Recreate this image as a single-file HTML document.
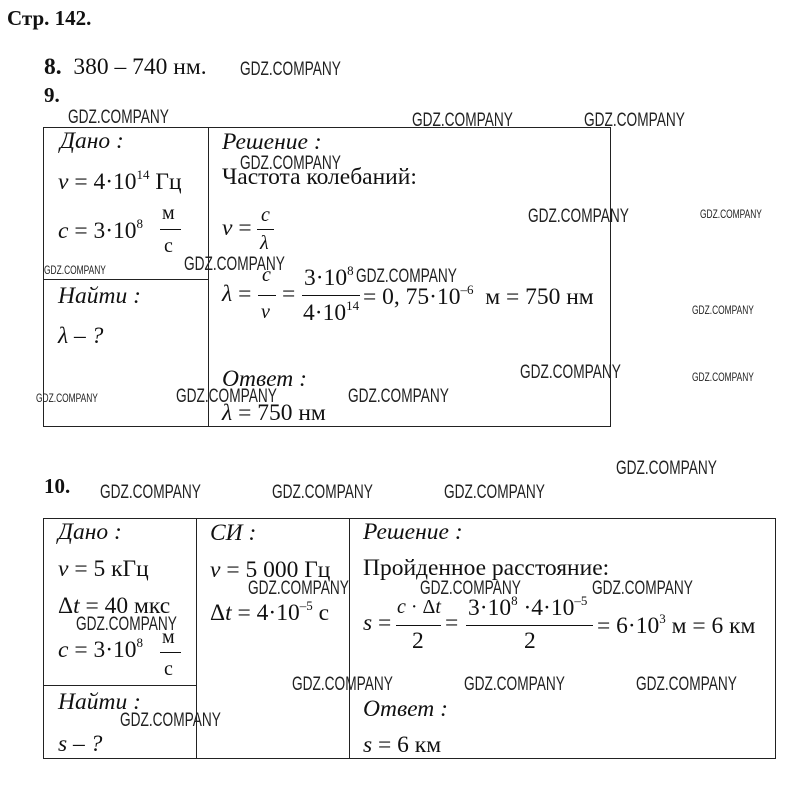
<!DOCTYPE html>
<html><head><meta charset="utf-8"><style>
body{margin:0;width:788px;height:807px;background:#fff;position:relative;overflow:hidden;font-family:"Liberation Serif",serif;color:#111}
.t{position:absolute;font-size:23.5px;white-space:nowrap;line-height:1}
.i{font-style:italic}
.w{position:absolute;font-family:"Liberation Sans",sans-serif;font-size:19px;color:#222;white-space:nowrap;transform:scaleX(0.72);transform-origin:0 0;line-height:1}
.ws{position:absolute;font-family:"Liberation Sans",sans-serif;font-size:12px;color:#222;white-space:nowrap;transform:scaleX(0.7);transform-origin:0 0;line-height:1}
.l{position:absolute;background:#222}
sup{font-size:13px;vertical-align:10px}
.fr{position:absolute;height:1.3px;background:#111}
</style></head><body>
<div class="t" style="left:7px;top:8px;font-weight:bold;font-size:21px">Стр. 142.</div>
<div class="t" style="left:44px;top:56px"><b>8.</b>&nbsp; 380 – 740 нм.</div>
<div class="t" style="left:44px;top:85px;font-weight:bold;font-size:21px">9.</div>

<!-- table 1 -->
<div class="l" style="left:43px;top:127px;width:568px;height:1px"></div>
<div class="l" style="left:43px;top:426px;width:568px;height:1px"></div>
<div class="l" style="left:43px;top:127px;width:1px;height:300px"></div>
<div class="l" style="left:610px;top:127px;width:1px;height:300px"></div>
<div class="l" style="left:208px;top:127px;width:1px;height:300px"></div>
<div class="l" style="left:43px;top:279px;width:165px;height:1px"></div>

<div class="t i" style="left:60px;top:130px">Дано :</div>
<div class="t" style="left:58px;top:168px"><i>ν</i> = 4·10<sup>14</sup> Гц</div>
<div class="t" style="left:58px;top:217px"><i>c</i> = 3·10<sup>8</sup></div>
<div class="t" style="left:162px;top:203px;font-size:20px">м</div>
<div class="fr" style="left:160px;top:229px;width:21px"></div>
<div class="t" style="left:164px;top:236px;font-size:20px">с</div>
<div class="t i" style="left:58px;top:285px">Найти :</div>
<div class="t i" style="left:58px;top:325px">λ – ?</div>

<div class="t i" style="left:222px;top:131px">Решение :</div>
<div class="t" style="left:222px;top:166px">Частота колебаний:</div>
<div class="t" style="left:222px;top:217px"><i>ν</i> =</div>
<div class="t i" style="left:261px;top:205px;font-size:20px">c</div>
<div class="fr" style="left:257px;top:229px;width:17px"></div>
<div class="t i" style="left:260px;top:233px;font-size:20px">λ</div>
<div class="t" style="left:222px;top:283px"><i>λ</i> =</div>
<div class="t i" style="left:262px;top:265px;font-size:20px">c</div>
<div class="fr" style="left:258px;top:295px;width:18px"></div>
<div class="t i" style="left:261px;top:302px;font-size:20px">ν</div>
<div class="t" style="left:282px;top:283px">=</div>
<div class="t" style="left:304px;top:264px">3·10<sup>8</sup></div>
<div class="fr" style="left:302px;top:295px;width:58px"></div>
<div class="t" style="left:303px;top:299px">4·10<sup>14</sup></div>
<div class="t" style="left:363px;top:283px">= 0, 75·10<sup>–6</sup> &nbsp;м = 750 нм</div>
<div class="t i" style="left:222px;top:368px">Ответ :</div>
<div class="t" style="left:222px;top:402px"><i>λ</i> = 750 нм</div>

<div class="t" style="left:44px;top:476px;font-weight:bold;font-size:21px">10.</div>

<!-- table 2 -->
<div class="l" style="left:43px;top:518px;width:733px;height:1px"></div>
<div class="l" style="left:43px;top:758px;width:733px;height:1px"></div>
<div class="l" style="left:43px;top:518px;width:1px;height:241px"></div>
<div class="l" style="left:775px;top:518px;width:1px;height:241px"></div>
<div class="l" style="left:196px;top:518px;width:1px;height:241px"></div>
<div class="l" style="left:349px;top:518px;width:1px;height:241px"></div>
<div class="l" style="left:43px;top:685px;width:153px;height:1px"></div>

<div class="t i" style="left:58px;top:521px">Дано :</div>
<div class="t" style="left:58px;top:558px"><i>ν</i> = 5 кГц</div>
<div class="t" style="left:58px;top:595px">Δ<i>t</i> = 40 мкс</div>
<div class="t" style="left:58px;top:636px"><i>c</i> = 3·10<sup>8</sup></div>
<div class="t" style="left:162px;top:627px;font-size:20px">м</div>
<div class="fr" style="left:160px;top:652px;width:21px"></div>
<div class="t" style="left:164px;top:659px;font-size:20px">с</div>
<div class="t i" style="left:58px;top:691px">Найти :</div>
<div class="t i" style="left:58px;top:733px">s – ?</div>

<div class="t i" style="left:210px;top:522px">СИ :</div>
<div class="t" style="left:210px;top:559px"><i>ν</i> = 5 000 Гц</div>
<div class="t" style="left:210px;top:599px">Δ<i>t</i> = 4·10<sup>–5</sup> с</div>

<div class="t i" style="left:363px;top:521px">Решение :</div>
<div class="t" style="left:363px;top:557px">Пройденное расстояние:</div>
<div class="t" style="left:363px;top:612px"><i>s</i> =</div>
<div class="t" style="left:397px;top:597px;font-size:20px"><i>c</i> · Δ<i>t</i></div>
<div class="fr" style="left:396px;top:625px;width:45px"></div>
<div class="t" style="left:412px;top:630px">2</div>
<div class="t" style="left:445px;top:612px">=</div>
<div class="t" style="left:468px;top:594px">3·10<sup>8</sup> ·4·10<sup>–5</sup></div>
<div class="fr" style="left:466px;top:625px;width:127px"></div>
<div class="t" style="left:524px;top:630px">2</div>
<div class="t" style="left:597px;top:612px">= 6·10<sup>3</sup> м = 6 км</div>
<div class="t i" style="left:363px;top:698px">Ответ :</div>
<div class="t" style="left:363px;top:734px"><i>s</i> = 6 км</div>

<!-- watermarks -->
<div class="w" style="left:240px;top:60px">GDZ.COMPANY</div>
<div class="w" style="left:68px;top:108px">GDZ.COMPANY</div>
<div class="w" style="left:412px;top:111px">GDZ.COMPANY</div>
<div class="w" style="left:584px;top:111px">GDZ.COMPANY</div>
<div class="w" style="left:240px;top:154px">GDZ.COMPANY</div>
<div class="w" style="left:528px;top:207px">GDZ.COMPANY</div>
<div class="ws" style="left:700px;top:208px">GDZ.COMPANY</div>
<div class="w" style="left:184px;top:255px">GDZ.COMPANY</div>
<div class="ws" style="left:44px;top:264px">GDZ.COMPANY</div>
<div class="w" style="left:356px;top:267px">GDZ.COMPANY</div>
<div class="ws" style="left:692px;top:304px">GDZ.COMPANY</div>
<div class="w" style="left:520px;top:363px">GDZ.COMPANY</div>
<div class="ws" style="left:692px;top:371px">GDZ.COMPANY</div>
<div class="ws" style="left:36px;top:392px">GDZ.COMPANY</div>
<div class="w" style="left:176px;top:387px">GDZ.COMPANY</div>
<div class="w" style="left:348px;top:387px">GDZ.COMPANY</div>
<div class="w" style="left:616px;top:459px">GDZ.COMPANY</div>
<div class="w" style="left:100px;top:483px">GDZ.COMPANY</div>
<div class="w" style="left:272px;top:483px">GDZ.COMPANY</div>
<div class="w" style="left:444px;top:483px">GDZ.COMPANY</div>
<div class="w" style="left:248px;top:579px">GDZ.COMPANY</div>
<div class="w" style="left:420px;top:579px">GDZ.COMPANY</div>
<div class="w" style="left:592px;top:579px">GDZ.COMPANY</div>
<div class="w" style="left:76px;top:615px">GDZ.COMPANY</div>
<div class="w" style="left:292px;top:675px">GDZ.COMPANY</div>
<div class="w" style="left:464px;top:675px">GDZ.COMPANY</div>
<div class="w" style="left:636px;top:675px">GDZ.COMPANY</div>
<div class="w" style="left:120px;top:711px">GDZ.COMPANY</div>
</body></html>
